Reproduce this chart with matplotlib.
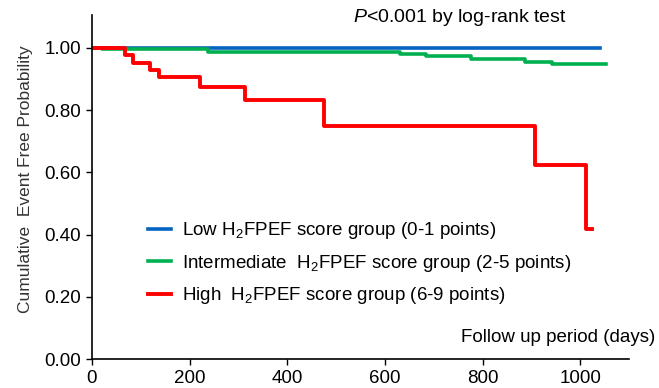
import matplotlib

matplotlib.use("Agg")
import matplotlib.pyplot as plt

plt.rcParams["font.family"] = ["Liberation Sans", "DejaVu Sans"]
plt.rcParams["mathtext.fontset"] = "custom"
plt.rcParams["mathtext.rm"] = "Liberation Sans"
plt.rcParams["mathtext.it"] = "Liberation Sans:italic"

# Kaplan-Meier steps (days, survival)
low_days = [0, 1041]
low_surv = [1.0, 1.0]

mid_days = [0, 20, 237, 630, 684, 776, 886, 943, 1052]
mid_surv = [1.0, 0.995, 0.988, 0.980, 0.973, 0.964, 0.955, 0.948, 0.948]

high_days = [0, 67, 84, 119, 137, 222, 314, 476, 908, 1012, 1025]
high_surv = [1.0, 0.976, 0.952, 0.929, 0.905, 0.875, 0.833, 0.75, 0.625, 0.417, 0.417]

labels = [
    r"Low H$_2$FPEF score group (0-1 points)",
    r"Intermediate  H$_2$FPEF score group (2-5 points)",
    r"High  H$_2$FPEF score group (6-9 points)",
]
colors = ["#0563C1", "#00B050", "#FF0000"]

x_ticks = [0, 200, 400, 600, 800, 1000]
y_ticks = [0.0, 0.2, 0.4, 0.6, 0.8, 1.0]

FS = 13.5

fig = plt.figure(figsize=(6.59, 3.88), dpi=100)
ax = fig.add_axes([0.1396, 0.0747, 0.815, 0.886])

ax.step(low_days, low_surv, where="post", color=colors[0], lw=2.6, label=labels[0])
ax.step(mid_days, mid_surv, where="post", color=colors[1], lw=2.6, label=labels[1])
ax.step(high_days, high_surv, where="post", color=colors[2], lw=2.8, label=labels[2])

ax.set_xlim(0, 1100)
ax.set_ylim(0, 1.105)
ax.set_xticks(x_ticks)
ax.set_yticks(y_ticks)
ax.set_yticklabels([f"{v:.2f}" for v in y_ticks])
ax.tick_params(labelsize=FS, direction="out", length=4, width=1, colors="black", pad=4)
for side in ("top", "right"):
    ax.spines[side].set_visible(False)
for side in ("left", "bottom"):
    ax.spines[side].set_linewidth(1.2)

ax.set_ylabel("Cumulative  Event Free Probability", fontsize=12.5, color="#333333")
ax.yaxis.set_label_coords(-0.11, 0.523)

fig.text(0.994, 0.129, "Follow up period (days)", ha="right", va="center", fontsize=FS)
fig.text(0.698, 0.954, r"$P$<0.001 by log-rank test", ha="center", va="center", fontsize=FS + 0.5)

ax.legend(loc="upper left", bbox_to_anchor=(0.104, 0.404), frameon=False,
          fontsize=FS, handlelength=1.23, handletextpad=0.59, labelspacing=0.62,
          borderaxespad=0, borderpad=0)

fig.savefig("out.png", dpi=100)
